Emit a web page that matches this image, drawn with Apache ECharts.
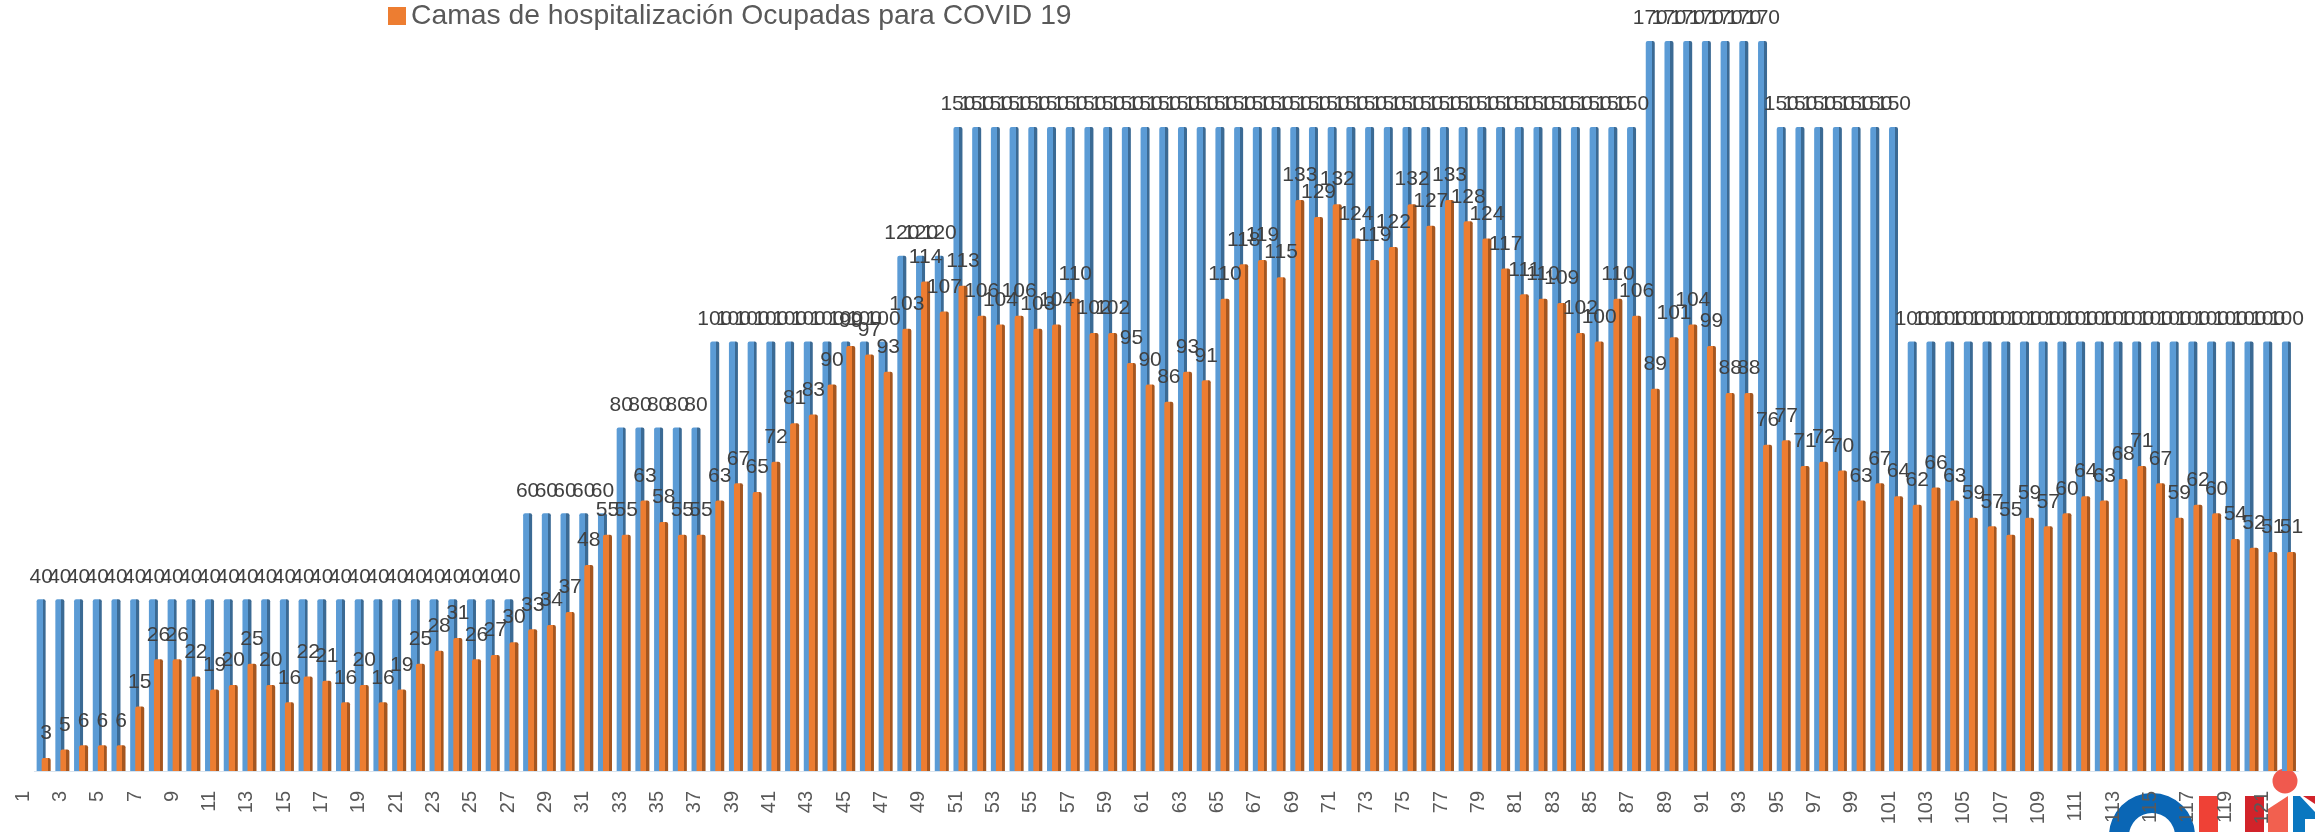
<!DOCTYPE html>
<html>
<head>
<meta charset="utf-8">
<title>Camas COVID 19</title>
<script src="https://cdn.jsdelivr.net/npm/echarts@6/dist/echarts.min.js"></script>
<style>
html, body { margin: 0; padding: 0; background: #fff; }
#main { width: 2315px; height: 832px; }
</style>
</head>
<body>
<div id="main"></div>
<script>
// dias
var dias = [];
for (var d = 1; d <= 121; d++) {
	dias.push(String(d));
}
// camas habilitadas
var camasHabilitadas = [
	40, 40, 40, 40, 40, 40, 40, 40, 40, 40, 40, 40, 40, 40, 40, 40, 40, 40, 40, 40, 40, 40, 40, 40, 40, 40,
	60, 60, 60, 60, 60,
	80, 80, 80, 80, 80,
	100, 100, 100, 100, 100, 100, 100, 100, 100, 100,
	120, 120, 120,
	150, 150, 150, 150, 150, 150, 150, 150, 150, 150, 150, 150, 150, 150, 150, 150, 150, 150, 150,
	150, 150, 150, 150, 150, 150, 150, 150, 150, 150, 150, 150, 150, 150, 150, 150, 150, 150,
	170, 170, 170, 170, 170, 170, 170,
	150, 150, 150, 150, 150, 150, 150,
	100, 100, 100, 100, 100, 100, 100, 100, 100, 100, 100, 100, 100, 100, 100, 100, 100, 100, 100, 100, 100
];
// camas ocupadas
var camasOcupadas = [
	3, 5, 6, 6, 6, 15, 26, 26, 22, 19, 20, 25, 20, 16, 22, 21, 16, 20, 16, 19,
	25, 28, 31, 26, 27, 30, 33, 34, 37, 48, 55, 55, 63, 58, 55, 55, 63, 67, 65, 72,
	81, 83, 90, 99, 97, 93, 103, 114, 107, 113, 106, 104, 106, 103, 104, 110, 102, 102, 95, 90,
	86, 93, 91, 110, 118, 119, 115, 133, 129, 132, 124, 119, 122, 132, 127, 133, 128, 124, 117, 111,
	110, 109, 102, 100, 110, 106, 89, 101, 104, 99, 88, 88, 76, 77, 71, 72, 70, 63, 67, 64,
	62, 66, 63, 59, 57, 55, 59, 57, 60, 64, 63, 68, 71, 67, 59, 62, 60, 54, 52, 51, 51
];

// bar with darker right side, like the 3d look of the original
var barFill = function (front, side, stop) {
	return new echarts.graphic.LinearGradient(0, 0, 1, 0, [
		{ offset: 0, color: front },
		{ offset: stop, color: front },
		{ offset: stop, color: side },
		{ offset: 1, color: side }
	]);
};

var myChart = echarts.init(document.getElementById('main'));

var option = {
	animation: false,
	textStyle: { fontFamily: 'Liberation Sans' },
	legend: {
		data: ['Camas de hospitalización Ocupadas para COVID 19'],
		left: 383,
		top: -3,
		itemWidth: 18,
		itemHeight: 18,
		icon: 'rect',
		itemStyle: { color: '#ed7d31' },
		itemGap: 8,
		textStyle: { fontSize: 28.3, color: '#595959', fontFamily: 'Liberation Sans' }
	},
	grid: {
		left: 34.3,
		width: 2264,
		top: 41,
		height: 730
	},
	xAxis: {
		type: 'category',
		data: dias,
		axisLine: { lineStyle: { color: '#d9e4ef' } },
		axisTick: { show: false },
		axisLabel: { show: false }
	},
	yAxis: {
		type: 'value',
		min: 0,
		max: 170,
		show: false,
		splitLine: { show: false }
	},
	series: [{
			name: 'Camas de hospitalización Habilitadas para COVID 19',
			type: 'bar',
			data: camasHabilitadas,
			barWidth: 9,
			barGap: '-44%',
			itemStyle: {
				color: barFill('#5b9bd5', '#3b6a94', 0.66),
				borderRadius: [2, 2, 0, 0]
			},
			label: {
				show: true,
				position: 'top',
				distance: 12,
				offset: [-1, 0],
				fontSize: 21,
				color: '#404040'
			},
			labelLayout: { hideOverlap: false }
		},
		{
			name: 'Camas de hospitalización Ocupadas para COVID 19',
			type: 'bar',
			data: camasOcupadas,
			barWidth: 9,
			itemStyle: {
				color: barFill('#ed7d31', '#a5561f', 0.66),
				borderRadius: [2, 2, 0, 0]
			},
			label: {
				show: true,
				position: 'top',
				distance: 14,
				offset: [-1, 0],
				fontSize: 21,
				color: '#404040'
			},
			labelLayout: { hideOverlap: false }
		}
	]
};

myChart.setOption(option);

// logo de la esquina
var logo = [
	{ type: 'ring', z: 1, shape: { cx: 2152, cy: 836, r: 43, r0: 23 }, style: { fill: '#0a66b5' } },
	{ type: 'rect', z: 1, shape: { x: 2199, y: 796, width: 19, height: 36 }, style: { fill: '#ef4136' } },
	{ type: 'rect', z: 1, shape: { x: 2245, y: 796, width: 19, height: 36 }, style: { fill: '#d2232a' } },
	{ type: 'circle', z: 1, shape: { cx: 2285, cy: 781, r: 12.5 }, style: { fill: '#f0594e' } },
	{ type: 'polygon', z: 1, shape: { points: [[2268, 809], [2288, 796], [2288, 832], [2268, 832]] }, style: { fill: '#f2604f' } },
	{ type: 'polygon', z: 1, shape: { points: [[2293, 796], [2300, 796], [2315, 812], [2315, 819], [2305, 819], [2305, 832], [2293, 832]] }, style: { fill: '#0a77c0' } },
	{ type: 'polygon', z: 1, shape: { points: [[2303, 796], [2315, 796], [2315, 804]] }, style: { fill: '#d2232a' } }
];

// etiquetas del eje, giradas y corridas a la izquierda de cada barra
var etiquetas = [];
for (var i = 0; i < dias.length; i += 2) {
	etiquetas.push({
		type: 'text',
		z: 5,
		x: myChart.convertToPixel({ xAxisIndex: 0 }, dias[i]) - 20.6 - 0.05 * i,
		y: 791,
		rotation: Math.PI / 2,
		style: {
			text: dias[i],
			font: '20px "Liberation Sans"',
			fill: '#595959',
			align: 'right',
			verticalAlign: 'middle'
		}
	});
}

myChart.setOption({ graphic: logo.concat(etiquetas) });
</script>
</body>
</html>
